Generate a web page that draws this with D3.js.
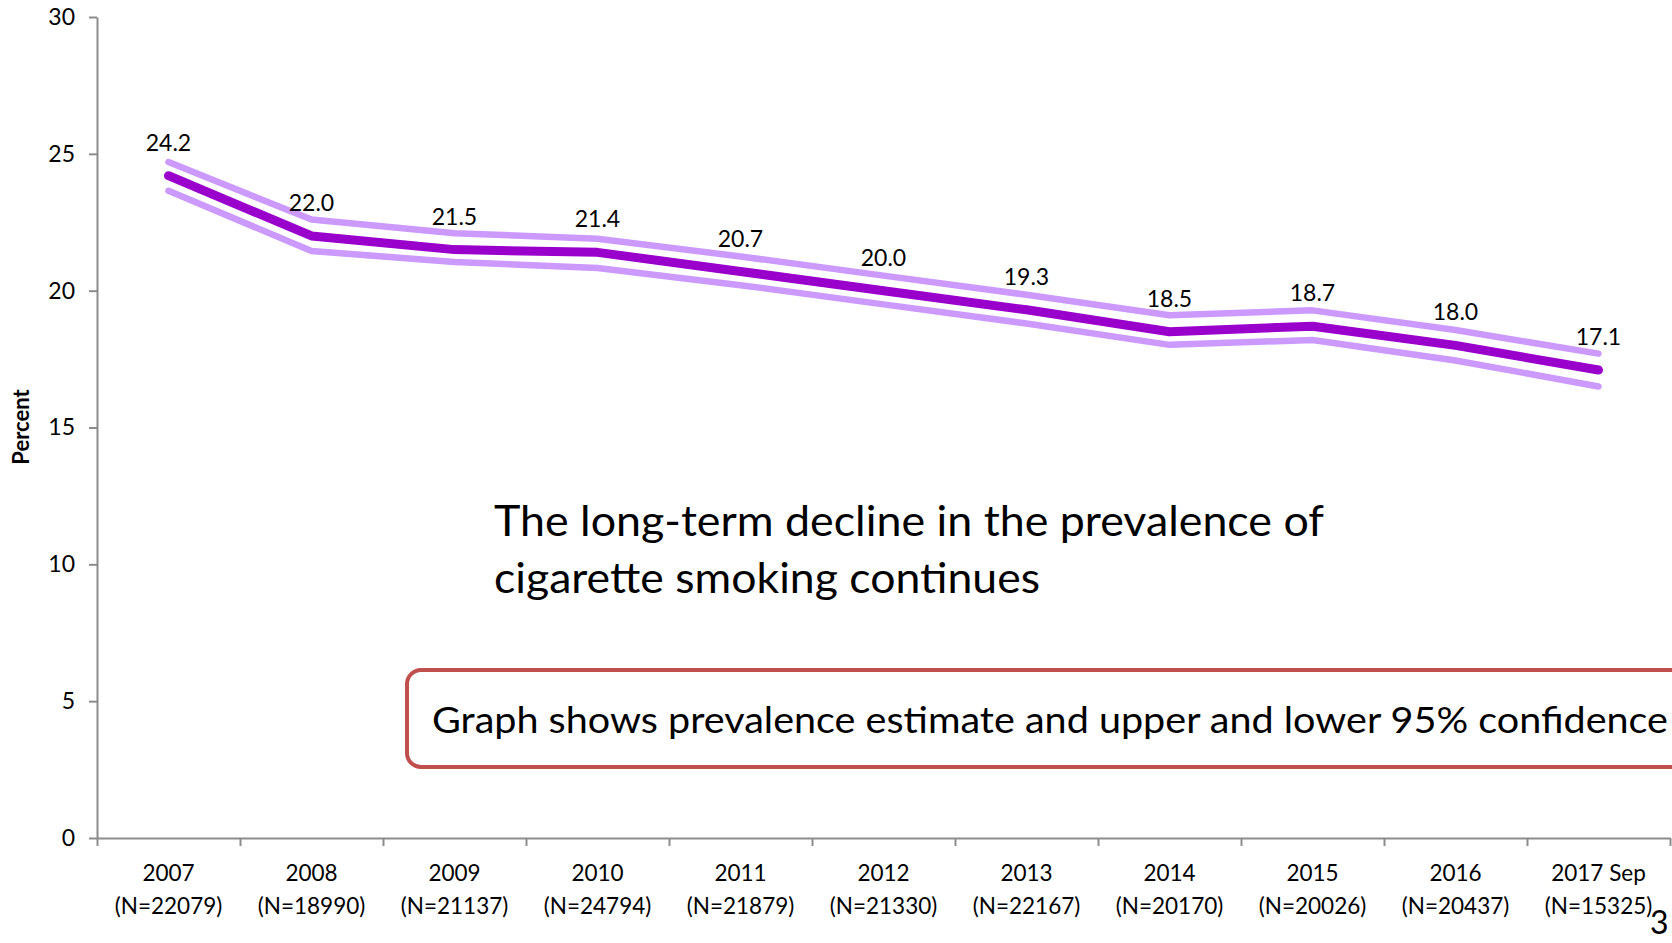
<!DOCTYPE html>
<html>
<head>
<meta charset="utf-8">
<script src="https://cdn.jsdelivr.net/npm/d3@7"></script>
<style>
  html, body { margin: 0; padding: 0; background: #ffffff; }
  svg { display: block; font-family: Lato, "Open Sans", sans-serif; }
</style>
</head>
<body>
<svg id="chart" width="1672" height="943"></svg>
<script>
// Survey years and sample sizes
const years = ["2007", "2008", "2009", "2010", "2011", "2012", "2013", "2014", "2015", "2016", "2017 Sep"];
const sampleSizes = ["22079", "18990", "21137", "24794", "21879", "21330", "22167", "20170", "20026", "20437", "15325"];

// Smoking prevalence (%) with upper and lower 95% confidence limits
const prevalence = [24.2, 22.0, 21.5, 21.4, 20.7, 20.0, 19.3, 18.5, 18.7, 18.0, 17.1];
const upperCI    = [24.7, 22.6, 22.1, 21.9, 21.25, 20.55, 19.85, 19.1, 19.28, 18.56, 17.7];
const lowerCI    = [23.65, 21.45, 21.05, 20.83, 20.2, 19.5, 18.8, 18.02, 18.2, 17.45, 16.5];

const yTicks = [0, 5, 10, 15, 20, 25, 30];

const headline = ["The long-term decline in the prevalence of", "cigarette smoking continues"];
const noteText = "Graph shows prevalence estimate and upper and lower 95% confidence";

const svg = d3.select("#chart");

const plotLeft = 97, plotRight = 1670, plotTop = 17, plotBottom = 838;

const x = d3.scaleBand().domain(years).range([plotLeft, plotRight]).padding(0);
const xEdges = d3.scaleLinear().domain([0, years.length]).range([plotLeft, plotRight]);
const y = d3.scaleLinear().domain([0, 30]).range([plotBottom, plotTop]);

const axisColor = "#8c8c8c";

// Y axis
const yAxis = svg.append("g")
  .attr("transform", `translate(${plotLeft},0)`)
  .call(d3.axisLeft(y).tickValues(yTicks).tickSize(8).tickSizeOuter(0).tickPadding(14));
yAxis.select(".domain").attr("stroke", axisColor).attr("stroke-width", 2);
yAxis.selectAll(".tick line").attr("stroke", axisColor).attr("stroke-width", 2);
yAxis.selectAll(".tick text")
  .attr("fill", "#000").attr("font-size", 23).attr("font-family", "Lato, sans-serif");

// X axis: ticks on category boundaries
const xAxis = svg.append("g")
  .attr("transform", `translate(0,${plotBottom})`)
  .call(d3.axisBottom(xEdges).tickValues(d3.range(years.length + 1)).tickSize(8).tickSizeOuter(0).tickFormat(""));
xAxis.select(".domain").attr("stroke", axisColor).attr("stroke-width", 2);
xAxis.selectAll(".tick line").attr("stroke", axisColor).attr("stroke-width", 2);

// Category labels (year and sample size)
const cat = svg.append("g").selectAll("text")
  .data(years)
  .join("text")
  .attr("text-anchor", "middle")
  .attr("font-size", 22.5)
  .attr("fill", "#000");
cat.append("tspan")
  .attr("x", d => x(d) + x.bandwidth() / 2)
  .attr("y", 881)
  .text(d => d);
cat.append("tspan")
  .attr("x", d => x(d) + x.bandwidth() / 2)
  .attr("y", 914)
  .text((d, i) => `(N=${sampleSizes[i]})`);

// Y axis title
svg.append("text")
  .attr("transform", "translate(29,427) rotate(-90)")
  .attr("text-anchor", "middle")
  .attr("font-size", 22)
  .attr("font-weight", "bold")
  .attr("fill", "#000")
  .text("Percent");

// Lines
const line = d3.line()
  .x((d, i) => x(years[i]) + x.bandwidth() / 2)
  .y(d => y(d));

const lines = svg.append("g")
  .attr("fill", "none")
  .attr("stroke-linecap", "round")
  .attr("stroke-linejoin", "round");

lines.append("path").datum(upperCI)
  .attr("d", line).attr("stroke", "#cc99ff").attr("stroke-width", 6.5);
lines.append("path").datum(lowerCI)
  .attr("d", line).attr("stroke", "#cc99ff").attr("stroke-width", 6.5);
lines.append("path").datum(prevalence)
  .attr("d", line).attr("stroke", "#9900cc").attr("stroke-width", 9);

// Value labels
svg.append("g").selectAll("text")
  .data(prevalence)
  .join("text")
  .attr("x", (d, i) => x(years[i]) + x.bandwidth() / 2)
  .attr("y", d => y(d) - 25)
  .attr("text-anchor", "middle")
  .attr("font-size", 23)
  .attr("fill", "#000")
  .text(d => d.toFixed(1));

// Headline
svg.append("g").selectAll("text")
  .data(headline)
  .join("text")
  .attr("x", 494)
  .attr("y", (d, i) => 536 + i * 57)
  .attr("font-size", 43)
  .attr("fill", "#000")
  .attr("textLength", (d, i) => i === 0 ? 830 : 546)
  .attr("lengthAdjust", "spacingAndGlyphs")
  .text(d => d);

// Note box
svg.append("rect")
  .attr("x", 407).attr("y", 670)
  .attr("width", 1320).attr("height", 97)
  .attr("rx", 14).attr("ry", 14)
  .attr("fill", "#ffffff")
  .attr("stroke", "#c0504d")
  .attr("stroke-width", 4);

svg.append("text")
  .attr("x", 432).attr("y", 733)
  .attr("font-size", 37)
  .attr("fill", "#000")
  .attr("textLength", 1236)
  .attr("lengthAdjust", "spacingAndGlyphs")
  .text(noteText);

// Page number
svg.append("text")
  .attr("x", 1650).attr("y", 934)
  .attr("font-size", 32)
  .attr("fill", "#000")
  .text("3");
</script>
</body>
</html>
